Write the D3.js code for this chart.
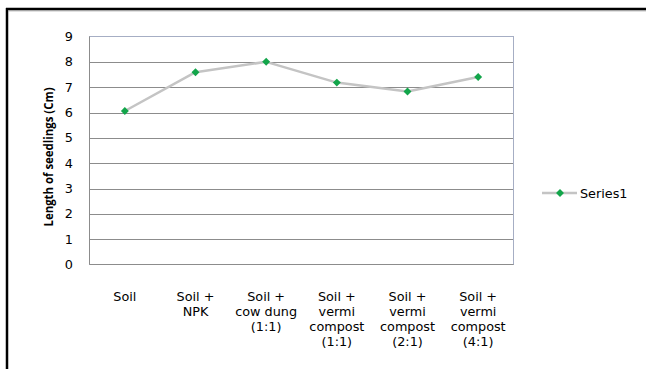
<!DOCTYPE html>
<html>
<head>
<meta charset="utf-8">
<script src="https://cdn.jsdelivr.net/npm/d3@7"></script>
<style>
  html, body { margin: 0; padding: 0; background: #fff; }
  svg { display: block; }
  text { font-family: "DejaVu Sans", "Open Sans", sans-serif; fill: #000; }
  .ytitle { font-family: "Open Sans", "Liberation Sans", sans-serif; }
</style>
</head>
<body>
<svg id="chart" width="646" height="369"></svg>
<script>
const categories = [
  ["Soil"],
  ["Soil +", "NPK"],
  ["Soil +", "cow dung", "(1:1)"],
  ["Soil +", "vermi", "compost", "(1:1)"],
  ["Soil +", "vermi", "compost", "(2:1)"],
  ["Soil +", "vermi", "compost", "(4:1)"]
];
const series1 = [6.06, 7.59, 8.0, 7.18, 6.83, 7.40];
const yTicks = [0, 1, 2, 3, 4, 5, 6, 7, 8, 9];
const seriesName = "Series1";
const yTitle = "Length of seedlings (Cm)";

const svg = d3.select("#chart");
const W = 646, H = 369;
const plot = { left: 89.5, right: 513.5, top: 36.5, bottom: 264.5 };
const FS = 12.8;

svg.append("rect").attr("x", 0).attr("y", 0).attr("width", W).attr("height", H).attr("fill", "#fff");
svg.append("line").attr("x1", 7).attr("x2", 7).attr("y1", 8).attr("y2", H).attr("stroke", "#000").attr("stroke-width", 2.5);
svg.append("line").attr("x1", 6).attr("x2", W).attr("y1", 9).attr("y2", 9).attr("stroke", "#000").attr("stroke-width", 2.5);
svg.append("line").attr("x1", 8).attr("x2", W).attr("y1", 10.8).attr("y2", 10.8).attr("stroke", "#9a9a9a").attr("stroke-width", 1);

const x = d3.scaleBand().domain(d3.range(categories.length)).range([plot.left, plot.right]).padding(0);
const y = d3.scaleLinear().domain([0, 9]).range([plot.bottom, plot.top]);

svg.append("g").selectAll("line").data(yTicks.filter(d => d > 0 && d < 9)).join("line")
  .attr("x1", plot.left).attr("x2", plot.right)
  .attr("y1", d => Math.round(y(d)) + 0.5).attr("y2", d => Math.round(y(d)) + 0.5)
  .attr("stroke", "#8c8c8c").attr("stroke-width", 1);

svg.append("rect").attr("x", plot.left).attr("y", plot.top)
  .attr("width", plot.right - plot.left).attr("height", plot.bottom - plot.top)
  .attr("fill", "none").attr("stroke", "#a6aec4").attr("stroke-width", 1);
svg.append("line").attr("x1", plot.left).attr("x2", plot.left).attr("y1", plot.top).attr("y2", plot.bottom).attr("stroke", "#8c8c8c");
svg.append("line").attr("x1", plot.left).attr("x2", plot.right).attr("y1", plot.bottom).attr("y2", plot.bottom).attr("stroke", "#8c8c8c");

svg.append("g").selectAll("text").data(yTicks).join("text")
  .attr("x", 73).attr("y", d => y(d)).attr("dy", "0.36em")
  .attr("text-anchor", "end").attr("font-size", FS).text(d => d);

// y title, compressed to span ~139px
svg.append("text").attr("class", "ytitle")
  .attr("transform", `translate(53, 157) rotate(-90)`)
  .attr("text-anchor", "middle").attr("font-size", 13).attr("font-weight", "bold")
  .attr("textLength", 139).attr("lengthAdjust", "spacingAndGlyphs")
  .text(yTitle);

// x labels: one text element per line
const lines = [];
categories.forEach((c, i) => c.forEach((s, j) => lines.push({ i, j, s })));
svg.append("g").selectAll("text").data(lines).join("text")
  .attr("text-anchor", "middle").attr("font-size", FS)
  .attr("x", d => x(d.i) + x.bandwidth() / 2)
  .attr("y", d => 301 + d.j * 15)
  .text(d => d.s);

const line = d3.line().x((d, i) => x(i) + x.bandwidth() / 2).y(d => y(d));
svg.append("path").datum(series1).attr("d", line)
  .attr("fill", "none").attr("stroke", "#c4c4c4").attr("stroke-width", 2.5).attr("stroke-linejoin", "round");

const diamond = d3.symbol().type(d3.symbolDiamond2).size(40);
svg.append("g").selectAll("path").data(series1).join("path")
  .attr("d", diamond)
  .attr("transform", (d, i) => `translate(${x(i) + x.bandwidth() / 2}, ${y(d)})`)
  .attr("fill", "#12a54a");

const lg = svg.append("g").attr("transform", "translate(0, 193)");
lg.append("line").attr("x1", 542).attr("x2", 577).attr("y1", 0).attr("y2", 0)
  .attr("stroke", "#c4c4c4").attr("stroke-width", 2.5);
lg.append("path").attr("d", diamond).attr("transform", "translate(560, 0)").attr("fill", "#12a54a");
lg.append("text").attr("x", 580).attr("y", 0).attr("dy", "0.36em").attr("font-size", FS).text(seriesName);
</script>
</body>
</html>
